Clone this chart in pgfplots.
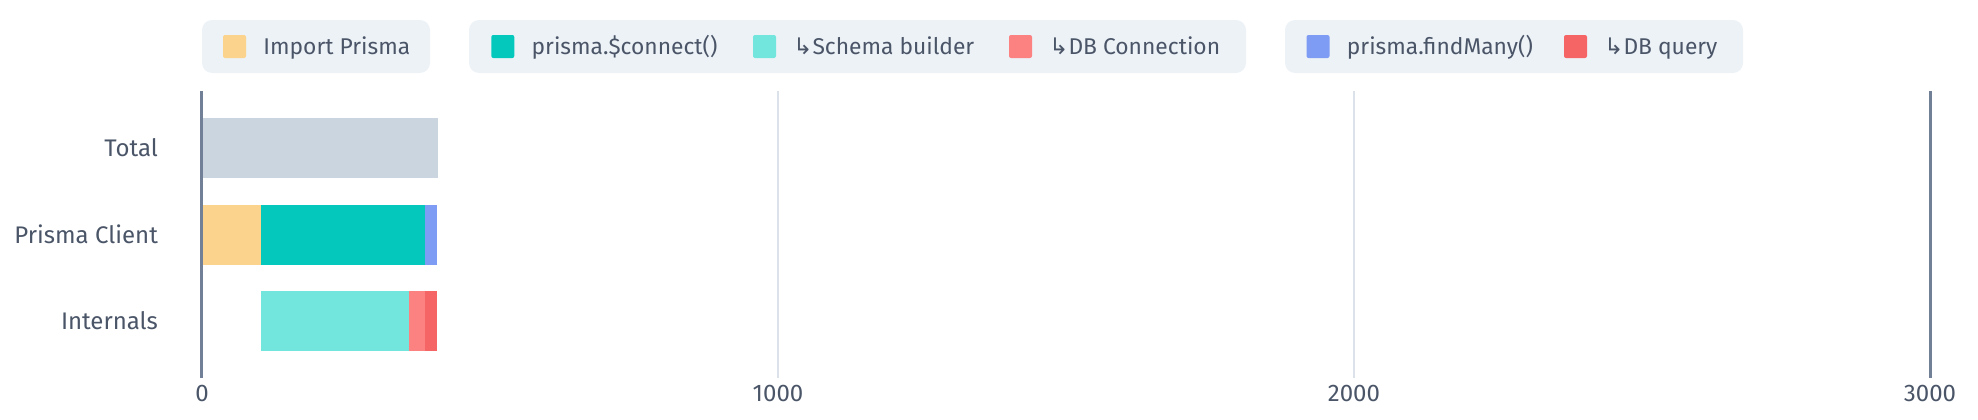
\documentclass[border=0pt]{standalone}
\usepackage{pgfplots}
\pgfplotsset{compat=1.18}
\usepackage{fontspec}
\setmainfont{Fira Sans}
\newfontfamily\arrowfont{DejaVu Sans}

\definecolor{txt}{HTML}{4A5568}
\definecolor{axisc}{HTML}{718096}
\definecolor{gridc}{HTML}{DCE2EA}
\definecolor{legbg}{HTML}{EDF2F7}
\definecolor{ctotal}{HTML}{CBD5E0}
\definecolor{cimport}{HTML}{FBD38D}
\definecolor{cconnect}{HTML}{04C8BC}
\definecolor{cschema}{HTML}{72E6DD}
\definecolor{cdbconn}{HTML}{FC8181}
\definecolor{cfind}{HTML}{7F9CF5}
\definecolor{cquery}{HTML}{F56565}

\newcommand{\sub}{{\arrowfont ↳}}
\newcommand{\legfont}{\fontsize{11.4}{13}\selectfont\color{txt}}

\begin{document}
\begin{tikzpicture}
\path[use as bounding box] (0,0) rectangle (989pt,209.5pt);

\begin{axis}[
    at={(101pt,20.5pt)}, anchor=south west,
    scale only axis, width=864pt, height=143.5pt,
    xbar stacked, bar width=30pt,
    xmin=0, xmax=3000, ymin=-0.66, ymax=2.66, y dir=reverse,
    ytick={0,1,2}, yticklabels={Total,Prisma Client,Internals},
    xtick={1000,2000},
    extra x ticks={0,3000},
    extra x tick style={grid=major, grid style={draw=axisc, line width=1.5pt}},
    xmajorgrids, grid style={draw=gridc, line width=0.75pt},
    axis line style={draw=none},
    axis on top,
    major tick length=0pt,
    tick label style={font=\fontsize{12}{14}\selectfont, text=txt},
    /pgf/number format/assume math mode=true,
    /pgf/number format/1000 sep={},
    yticklabel style={xshift=-18.5pt},
  ]
  % Total
  \addplot[fill=ctotal, draw=none] coordinates {(410,0) (0,1) (0,2)};
  % Import Prisma
  \addplot[fill=cimport, draw=none] coordinates {(0,0) (102,1) (0,2)};
  % offset for internals
  \addplot[fill=none, draw=none] coordinates {(0,0) (0,1) (102,2)};
  % prisma.$connect()
  \addplot[fill=cconnect, draw=none] coordinates {(0,0) (285,1) (0,2)};
  % Schema builder
  \addplot[fill=cschema, draw=none] coordinates {(0,0) (0,1) (257,2)};
  % DB Connection
  \addplot[fill=cdbconn, draw=none] coordinates {(0,0) (0,1) (28,2)};
  % prisma.findMany()
  \addplot[fill=cfind, draw=none] coordinates {(0,0) (21,1) (0,2)};
  % DB query
  \addplot[fill=cquery, draw=none] coordinates {(0,0) (0,1) (21,2)};
\end{axis}

% legend
\fill[legbg, rounded corners=5pt] (101pt,173pt) rectangle (215pt,199.5pt);
\fill[legbg, rounded corners=5pt] (234.5pt,173pt) rectangle (623pt,199.5pt);
\fill[legbg, rounded corners=5pt] (642.5pt,173pt) rectangle (871.5pt,199.5pt);
\foreach \x/\c/\t in {
    117.25/cimport/{Import Prisma},
    251.4/cconnect/{prisma.\$connect()},
    382.25/cschema/{\sub Schema builder},
    510.25/cdbconn/{\sub DB Connection},
    659/cfind/{prisma.findMany()},
    787.75/cquery/{\sub DB query}} {
  \fill[\c, rounded corners=1pt] (\x pt-5.75pt,180.5pt) rectangle (\x pt+5.75pt,192pt);
  \node[anchor=base west, inner sep=0pt, font=\legfont] at (\x pt+14.25pt,182.4pt) {\t};
}
\end{tikzpicture}
\end{document}
